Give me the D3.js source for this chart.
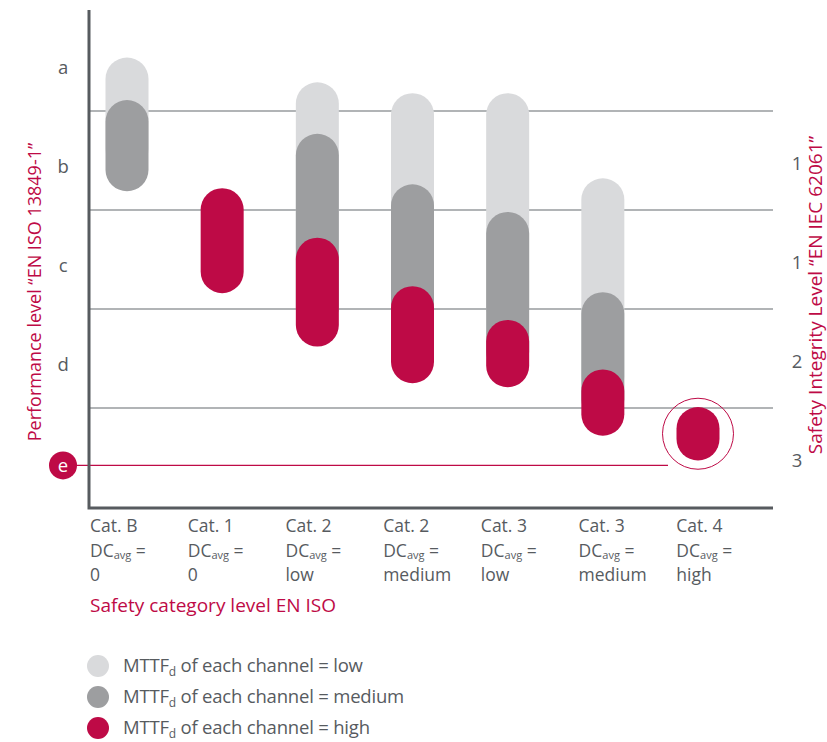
<!DOCTYPE html>
<html>
<head>
<meta charset="utf-8">
<script src="https://cdn.jsdelivr.net/npm/d3@7"></script>
<style>
  body { margin: 0; background: #fff; }
  svg text { font-family: "Open Sans", sans-serif; }
  .lbl { fill: #575b5f; font-size: 18.5px; letter-spacing: -0.2px; }
  .cat { fill: #575b5f; font-size: 17.5px; }
  .red { fill: #be0a46; }
</style>
</head>
<body>
<div id="chart"></div>
<script>
// categories along the bottom
var categories = ["Cat. B", "Cat. 1", "Cat. 2", "Cat. 2", "Cat. 3", "Cat. 3", "Cat. 4"];
var dcValues = ["0", "0", "low", "medium", "low", "medium", "high"];
// performance levels (rows) and SIL on the right
var levels = ["a", "b", "c", "d", "e"];
var silLabels = ["", "1", "1", "2", "3"];

// pill ranges in PL units (0 = top of "a", 5 = bottom of "e"), [category index, from, to]
var lowRanges = [[0, 0.46, 1.6], [2, 0.71, 2.6], [3, 0.82, 3.0], [4, 0.82, 3.2], [5, 1.68, 3.9]];
var mediumRanges = [[0, 0.89, 1.81], [2, 1.23, 3.2], [3, 1.74, 3.6], [4, 2.02, 3.65], [5, 2.83, 4.13]];
var highRanges = [[1, 1.78, 2.84], [2, 2.28, 3.38], [3, 2.77, 3.75], [4, 3.11, 3.79], [5, 3.61, 4.28], [6, 3.99, 4.53]];

var legendItems = ["low", "medium", "high"];
var colors = {low: "#d9dadc", medium: "#9d9ea0", high: "#be0a46"};

var width = 827, height = 742;
var svg = d3.select("#chart").append("svg")
	.attr("width", width)
	.attr("height", height);

var plot = {left: 89, right: 773, top: 12, bottom: 507};

var yScale = d3.scaleLinear().domain([0, 5]).range([plot.top, plot.bottom]);
var xBand = d3.scaleBand().domain(d3.range(categories.length)).range([plot.left, plot.right]);
var xPill = d3.scalePoint().domain(d3.range(categories.length)).range([127, 698]);
var pillW = 43;

// grid lines between levels
svg.append("g")
	.selectAll("line")
	.data([1, 2, 3, 4])
	.enter().append("line")
	.attr("x1", plot.left)
	.attr("x2", plot.right)
	.attr("y1", function(d) { return yScale(d); })
	.attr("y2", function(d) { return yScale(d); })
	.attr("stroke", "#b1b4b6")
	.attr("stroke-width", 2);

// pills, low first so the higher ones sit on top
function drawPills(ranges, key) {
	svg.append("g")
		.selectAll("rect")
		.data(ranges)
		.enter().append("rect")
		.attr("x", function(d) { return xPill(d[0]) - pillW / 2; })
		.attr("y", function(d) { return yScale(d[1]); })
		.attr("width", pillW)
		.attr("height", function(d) { return yScale(d[2]) - yScale(d[1]); })
		.attr("rx", pillW / 2)
		.attr("ry", pillW / 2)
		.attr("fill", colors[key]);
}
drawPills(lowRanges, "low");
drawPills(mediumRanges, "medium");
drawPills(highRanges, "high");

// target line for PL e and the ring round Cat. 4
var last = highRanges[highRanges.length - 1];
var ringY = yScale((last[1] + last[2]) / 2);
var eY = yScale(4.58);
svg.append("line")
	.attr("x1", 63).attr("x2", xPill(last[0]) - 30)
	.attr("y1", eY).attr("y2", eY)
	.attr("stroke", "#be0a46").attr("stroke-width", 1.2);
svg.append("circle")
	.attr("cx", xPill(last[0]))
	.attr("cy", ringY)
	.attr("r", 35.5)
	.attr("fill", "none")
	.attr("stroke", "#be0a46")
	.attr("stroke-width", 1);

// axes (just the two lines)
svg.append("path")
	.attr("d", "M" + plot.left + "," + 10 + "V" + (plot.bottom + 1) + "H" + plot.right)
	.attr("fill", "none")
	.attr("stroke", "#575b5f")
	.attr("stroke-width", 3);

// level letters on the left (the last one sits in the badge)
svg.append("g")
	.selectAll("text")
	.data(levels.slice(0, levels.length - 1))
	.enter().append("text")
	.attr("class", "lbl")
	.attr("x", 63)
	.attr("y", function(d, i) { return yScale(i + 0.56); })
	.attr("dy", "0.35em")
	.attr("text-anchor", "middle")
	.text(function(d) { return d; });

// the "e" badge
svg.append("circle")
	.attr("cx", 63).attr("cy", eY).attr("r", 14)
	.attr("fill", "#be0a46");
svg.append("text")
	.attr("x", 63).attr("y", eY).attr("dy", "0.35em")
	.attr("text-anchor", "middle")
	.attr("fill", "#fff")
	.style("font-size", "18.5px")
	.text(levels[levels.length - 1]);

// SIL numbers on the right
svg.append("g")
	.selectAll("text")
	.data(silLabels)
	.enter().append("text")
	.attr("class", "lbl")
	.attr("x", 797)
	.attr("y", function(d, i) { return yScale(i + 0.53); })
	.attr("dy", "0.35em")
	.attr("text-anchor", "middle")
	.text(function(d) { return d; });

// axis titles
svg.append("text")
	.attr("class", "red")
	.attr("transform", "translate(41,292) rotate(-90)")
	.attr("text-anchor", "middle")
	.style("font-size", "18px")
	.text("Performance level \u201cEN ISO 13849-1\u201d");

svg.append("text")
	.attr("class", "red")
	.attr("transform", "translate(822,295) rotate(-90)")
	.attr("text-anchor", "middle")
	.style("font-size", "19px")
	.text("Safety Integrity Level \u201cEN IEC 62061\u201d");

// category labels, three lines each
var catG = svg.append("g")
	.selectAll("g")
	.data(categories)
	.enter().append("g")
	.attr("transform", function(d, i) { return "translate(" + (xBand(i) + 1) + ",0)"; });
catG.append("text").attr("class", "cat").attr("y", 532)
	.text(function(d) { return d; });
var dc = catG.append("text").attr("class", "cat").attr("y", 556.5);
dc.append("tspan").text("DC");
dc.append("tspan").attr("dy", 2.5).style("font-size", "11px").text("avg");
dc.append("tspan").attr("dy", -2.5).text(" =");
catG.append("text").attr("class", "cat").attr("y", 581)
	.text(function(d, i) { return dcValues[i]; });

svg.append("text")
	.attr("class", "red")
	.attr("x", 90).attr("y", 612)
	.style("font-size", "19px")
	.text("Safety category level EN ISO");

// legend
var leg = svg.append("g")
	.selectAll("g")
	.data(legendItems)
	.enter().append("g")
	.attr("transform", function(d, i) { return "translate(0," + (666 + i * 31) + ")"; });
leg.append("circle").attr("cx", 98).attr("r", 11)
	.attr("fill", function(d) { return colors[d]; });
var lt = leg.append("text").attr("class", "lbl").attr("x", 123).attr("dy", "0.35em")
	.style("font-size", "18.5px");
lt.append("tspan").text("MTTF");
lt.append("tspan").attr("dy", 4).style("font-size", "12px").text("d");
lt.append("tspan").attr("dy", -4).text(" of each channel = ");
lt.append("tspan").text(function(d) { return d; });
</script>
</body>
</html>
